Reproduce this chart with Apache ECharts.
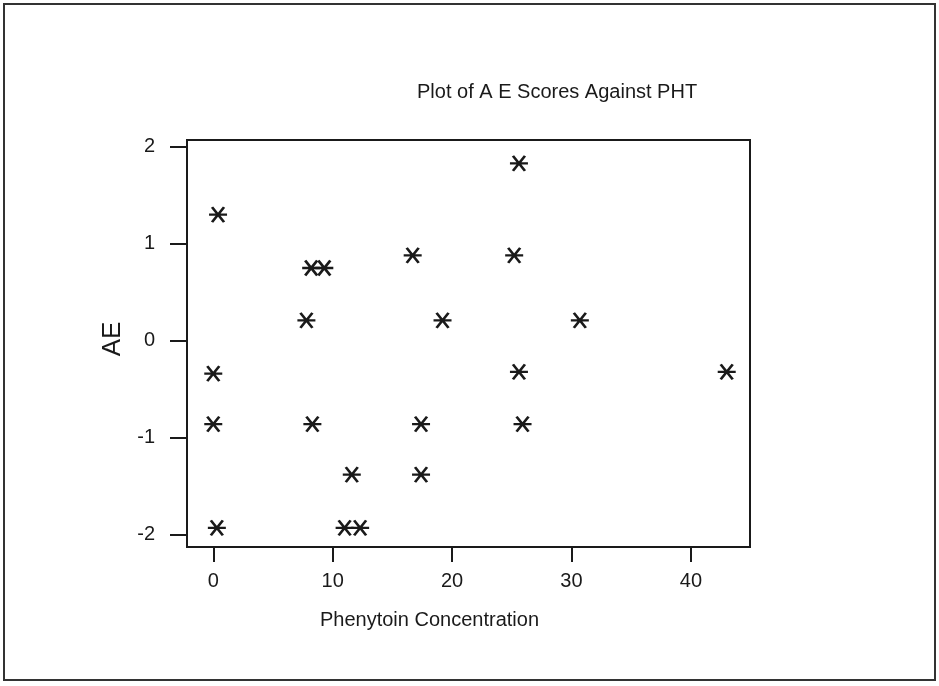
<!DOCTYPE html>
<html>
<head>
<meta charset="utf-8">
<script src="https://cdn.jsdelivr.net/npm/echarts@6/dist/echarts.min.js"></script>
<style>
html,body{margin:0;padding:0;background:#fff;}
#chart{width:939px;height:686px;}
</style>
</head>
<body>
<div id="chart"></div>
<script>
var chartTitle = 'Plot of A E Scores Against PHT';
var xAxisTitle = 'Phenytoin Concentration';
var yAxisTitle = 'AE';
var xTickValues = [0, 10, 20, 30, 40];
var yTickValues = [-2, -1, 0, 1, 2];
var phtValues = [0.4, 0.0, 0.0, 0.3, 8.2, 9.3, 7.8, 8.3, 11.6, 11.0, 12.3, 16.7, 19.2, 17.4, 17.4, 25.6, 25.2, 25.6, 25.9, 30.7, 43.0];
var aeValues  = [1.30, -0.34, -0.86, -1.93, 0.75, 0.75, 0.21, -0.86, -1.38, -1.93, -1.93, 0.88, 0.21, -0.86, -1.38, 1.83, 0.88, -0.32, -0.86, 0.21, -0.32];

var points = phtValues.map(function (x, i) { return [x, aeValues[i]]; });
var FONT = '"Liberation Sans", Arial, sans-serif';
var INK = '#1a1a1a';

var chart = echarts.init(document.getElementById('chart'), null, {renderer: 'canvas'});
chart.setOption({
  animation: false,
  backgroundColor: '#ffffff',
  title: {
    text: chartTitle,
    left: 417, top: 82, padding: 0,
    textStyle: {fontFamily: FONT, fontSize: 20, fontWeight: 'normal', color: INK}
  },
  graphic: [{
    type: 'rect',
    shape: {x: 4, y: 4, width: 931, height: 676},
    style: {fill: 'none', stroke: '#333', lineWidth: 2},
    z: -1
  }],
  grid: {
    left: 187, top: 140, width: 563, height: 407,
    show: true, borderColor: INK, borderWidth: 2, backgroundColor: 'transparent'
  },
  xAxis: {
    type: 'value', min: -2.2, max: 44.95,
    name: xAxisTitle, nameLocation: 'middle', nameGap: 63,
    nameTextStyle: {fontFamily: FONT, fontSize: 20, color: INK, padding: [0, 78, 0, 0]},
    splitLine: {show: false},
    axisLine: {show: true, onZero: false, lineStyle: {color: INK, width: 2}},
    axisTick: {show: true, length: 15, customValues: xTickValues, lineStyle: {color: INK, width: 2}},
    axisLabel: {customValues: xTickValues, margin: 24, fontFamily: FONT, fontSize: 20, color: INK}
  },
  yAxis: {
    type: 'value', min: -2.127, max: 2.07,
    name: yAxisTitle, nameLocation: 'middle', nameGap: 50, nameRotate: 90,
    nameTextStyle: {fontFamily: FONT, fontSize: 26, color: INK, padding: [0, 0, 0, 9]},
    splitLine: {show: false},
    axisLine: {show: true, onZero: false, lineStyle: {color: INK, width: 2}},
    axisTick: {show: true, length: 17, customValues: yTickValues, lineStyle: {color: INK, width: 2}},
    axisLabel: {customValues: yTickValues, margin: 32, fontFamily: FONT, fontSize: 20, color: INK}
  },
  series: [{
    type: 'scatter',
    data: points,
    symbol: 'path://M0,7L18,7M3,0L15,14M15,0L3,14',
    symbolSize: [18, 15],
    itemStyle: {color: INK, borderColor: INK, borderWidth: 2.5, opacity: 1}
  }]
});
</script>
</body>
</html>
